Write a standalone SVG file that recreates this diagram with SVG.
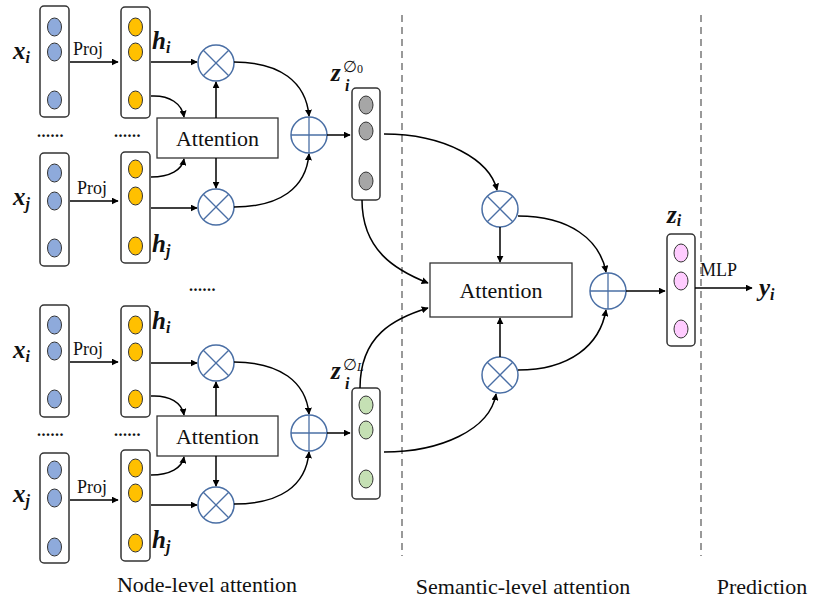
<svg xmlns="http://www.w3.org/2000/svg" width="815" height="603" viewBox="0 0 815 603" font-family="'Liberation Serif', 'Times New Roman', 'DejaVu Serif', serif">
<defs>
<marker id="ah" viewBox="0 0 10 10" refX="9" refY="5" markerWidth="7" markerHeight="7" markerUnits="userSpaceOnUse" orient="auto">
<path d="M0,0 L10,5 L0,10 z" fill="#000"/>
</marker>
<style>
.vbox{fill:#fff;stroke:#333;stroke-width:1.5}
.nb{fill:#8eaadb;stroke:#333;stroke-width:1}
.no{fill:#ffc000;stroke:#333;stroke-width:1}
.ng{fill:#a6a6a6;stroke:#333;stroke-width:1}
.ngr{fill:#c5e0b4;stroke:#333;stroke-width:1}
.np{fill:#ffccff;stroke:#333;stroke-width:1}
.op{fill:#fff;stroke:#4a6fa5;stroke-width:1.5}
.opl{stroke:#4a6fa5;stroke-width:1.3}
.abox{fill:#fff;stroke:#333;stroke-width:1.3}
.edge{fill:none;stroke:#000;stroke-width:1.5;marker-end:url(#ah)}
.dash{stroke:#999;stroke-width:2;stroke-dasharray:7,5}
text{font-family:'Liberation Serif','Times New Roman','DejaVu Serif',serif;fill:#111}
.math{font-weight:bold;font-style:italic;font-size:25px}
.sub{font-style:italic;font-weight:bold;font-size:16px}
.lab{font-size:18px}
.att{font-size:22px}
.cap{font-size:22px}
.dots{font-size:16px;font-weight:bold;letter-spacing:0.5px}
</style>
</defs>

<line class="dash" x1="402" y1="15" x2="402" y2="556"/>
<line class="dash" x1="701" y1="15" x2="701" y2="556"/>

<!-- top group -->
<g id="xi1"><rect class="vbox" x="40" y="6" width="29" height="111" rx="4"/>
<ellipse class="nb" cx="54.5" cy="27" rx="7" ry="9"/><ellipse class="nb" cx="54.5" cy="52" rx="7" ry="9"/><ellipse class="nb" cx="54.5" cy="100" rx="7" ry="9"/>
<text class="math" x="13" y="59">x<tspan class="sub" dy="4">i</tspan></text></g>
<g id="hi1"><rect class="vbox" x="121" y="7" width="29" height="111" rx="4"/>
<ellipse class="no" cx="135.5" cy="27" rx="7" ry="9"/><ellipse class="no" cx="135.5" cy="52" rx="7" ry="9"/><ellipse class="no" cx="135.5" cy="100" rx="7" ry="9"/>
<text class="math" x="152" y="49">h<tspan class="sub" dy="4">i</tspan></text></g>
<g id="xj1"><rect class="vbox" x="40" y="153" width="29" height="113" rx="4"/>
<ellipse class="nb" cx="54.5" cy="173" rx="7" ry="9"/><ellipse class="nb" cx="54.5" cy="201" rx="7" ry="9"/><ellipse class="nb" cx="54.5" cy="248" rx="7" ry="9"/>
<text class="math" x="13" y="205">x<tspan class="sub" dy="4">j</tspan></text></g>
<g id="hj1"><rect class="vbox" x="121" y="152" width="29" height="111" rx="4"/>
<ellipse class="no" cx="135.5" cy="169" rx="7" ry="9"/><ellipse class="no" cx="135.5" cy="196" rx="7" ry="9"/><ellipse class="no" cx="135.5" cy="246" rx="7" ry="9"/>
<text class="math" x="152" y="252">h<tspan class="sub" dy="4">j</tspan></text></g>
<g id="att1"><rect class="abox" x="157" y="118" width="121" height="40"/><text class="att" x="217.5" y="146" text-anchor="middle">Attention</text></g>
<g id="mul1a"><circle class="op" cx="216" cy="63" r="18"/><line class="opl" x1="203.3" y1="50.3" x2="228.7" y2="75.7"/><line class="opl" x1="228.7" y1="50.3" x2="203.3" y2="75.7"/></g>
<g id="mul1b"><circle class="op" cx="216" cy="207" r="18"/><line class="opl" x1="203.3" y1="194.3" x2="228.7" y2="219.7"/><line class="opl" x1="228.7" y1="194.3" x2="203.3" y2="219.7"/></g>
<g id="plus1"><circle class="op" cx="309" cy="135" r="18"/><line class="opl" x1="291" y1="135" x2="327" y2="135"/><line class="opl" x1="309" y1="117" x2="309" y2="153"/></g>
<g id="z0"><rect class="vbox" x="352" y="88" width="28" height="112" rx="4"/>
<ellipse class="ng" cx="366" cy="105" rx="7" ry="9"/><ellipse class="ng" cx="366" cy="131" rx="7" ry="9"/><ellipse class="ng" cx="366" cy="181" rx="7" ry="9"/>
<text class="math" x="331" y="81">z</text><text class="sub" x="345" y="91">i</text><text x="343" y="72" font-size="16">∅<tspan font-size="12" dy="1">0</tspan></text></g>
<text class="dots" x="37" y="137">......</text>
<text class="dots" x="114" y="137">......</text>
<text class="dots" x="189" y="291">......</text>

<!-- bottom group -->
<g id="xi2"><rect class="vbox" x="40" y="305" width="29" height="112" rx="4"/>
<ellipse class="nb" cx="54.5" cy="325" rx="7" ry="9"/><ellipse class="nb" cx="54.5" cy="351" rx="7" ry="9"/><ellipse class="nb" cx="54.5" cy="399" rx="7" ry="9"/>
<text class="math" x="13" y="358">x<tspan class="sub" dy="4">i</tspan></text></g>
<g id="hi2"><rect class="vbox" x="121" y="306" width="29" height="111" rx="4"/>
<ellipse class="no" cx="135.5" cy="325" rx="7" ry="9"/><ellipse class="no" cx="135.5" cy="352" rx="7" ry="9"/><ellipse class="no" cx="135.5" cy="399" rx="7" ry="9"/>
<text class="math" x="152" y="329">h<tspan class="sub" dy="4">i</tspan></text></g>
<g id="xj2"><rect class="vbox" x="40" y="453" width="29" height="110" rx="4"/>
<ellipse class="nb" cx="54.5" cy="470" rx="7" ry="9"/><ellipse class="nb" cx="54.5" cy="498" rx="7" ry="9"/><ellipse class="nb" cx="54.5" cy="547" rx="7" ry="9"/>
<text class="math" x="13" y="502">x<tspan class="sub" dy="4">j</tspan></text></g>
<g id="hj2"><rect class="vbox" x="121" y="450" width="29" height="111" rx="4"/>
<ellipse class="no" cx="135.5" cy="468" rx="7" ry="9"/><ellipse class="no" cx="135.5" cy="493" rx="7" ry="9"/><ellipse class="no" cx="135.5" cy="543" rx="7" ry="9"/>
<text class="math" x="152" y="548">h<tspan class="sub" dy="4">j</tspan></text></g>
<g id="att2"><rect class="abox" x="157" y="416" width="121" height="40"/><text class="att" x="217.5" y="444" text-anchor="middle">Attention</text></g>
<g id="mul2a"><circle class="op" cx="216" cy="363" r="18"/><line class="opl" x1="203.3" y1="350.3" x2="228.7" y2="375.7"/><line class="opl" x1="228.7" y1="350.3" x2="203.3" y2="375.7"/></g>
<g id="mul2b"><circle class="op" cx="216" cy="505" r="18"/><line class="opl" x1="203.3" y1="492.3" x2="228.7" y2="517.7"/><line class="opl" x1="228.7" y1="492.3" x2="203.3" y2="517.7"/></g>
<g id="plus2"><circle class="op" cx="309" cy="433" r="18"/><line class="opl" x1="291" y1="433" x2="327" y2="433"/><line class="opl" x1="309" y1="415" x2="309" y2="451"/></g>
<g id="zL"><rect class="vbox" x="352" y="388" width="28" height="111" rx="4"/>
<ellipse class="ngr" cx="366" cy="405" rx="7" ry="9"/><ellipse class="ngr" cx="366" cy="430" rx="7" ry="9"/><ellipse class="ngr" cx="366" cy="479" rx="7" ry="9"/>
<text class="math" x="331" y="379">z</text><text class="sub" x="345" y="389">i</text><text x="343" y="370" font-size="16">∅<tspan font-size="12" font-style="italic" dy="1">L</tspan></text></g>
<text class="dots" x="37" y="436">......</text>
<text class="dots" x="114" y="436">......</text>

<!-- semantic -->
<g id="smul1"><circle class="op" cx="500" cy="209" r="18"/><line class="opl" x1="487.3" y1="196.3" x2="512.7" y2="221.7"/><line class="opl" x1="512.7" y1="196.3" x2="487.3" y2="221.7"/></g>
<g id="smul2"><circle class="op" cx="500" cy="375" r="18"/><line class="opl" x1="487.3" y1="362.3" x2="512.7" y2="387.7"/><line class="opl" x1="512.7" y1="362.3" x2="487.3" y2="387.7"/></g>
<g id="satt"><rect class="abox" x="430" y="263" width="142" height="54"/><text class="att" x="501" y="298" text-anchor="middle">Attention</text></g>
<g id="splus"><circle class="op" cx="608" cy="291" r="18"/><line class="opl" x1="590" y1="291" x2="626" y2="291"/><line class="opl" x1="608" y1="273" x2="608" y2="309"/></g>
<g id="zi"><rect class="vbox" x="667" y="234" width="28" height="112" rx="4"/>
<ellipse class="np" cx="681" cy="253" rx="7" ry="9"/><ellipse class="np" cx="681" cy="281" rx="7" ry="9"/><ellipse class="np" cx="681" cy="329" rx="7" ry="9"/>
<text class="math" x="667" y="223">z<tspan class="sub" dy="3">i</tspan></text></g>
<g id="yi"><text class="math" x="759" y="296">y<tspan class="sub" dy="4" font-weight="normal">i</tspan></text></g>

<g id="connectors">
<line class="edge" x1="70" y1="62" x2="118" y2="62"/><text class="lab" x="73" y="55">Proj</text>
<line class="edge" x1="70" y1="201" x2="118" y2="201"/><text class="lab" x="77" y="194">Proj</text>
<line class="edge" x1="70" y1="362" x2="118" y2="362"/><text class="lab" x="73" y="355">Proj</text>
<line class="edge" x1="70" y1="500" x2="118" y2="500"/><text class="lab" x="77" y="493">Proj</text>

<line class="edge" x1="151" y1="62" x2="197" y2="62"/>
<line class="edge" x1="151" y1="208" x2="197" y2="208"/>
<path class="edge" d="M151,96 C170,95 182,104 184,117"/>
<path class="edge" d="M151,177 C170,177 182,170 184,159"/>
<line class="edge" x1="216" y1="118" x2="216" y2="82"/>
<line class="edge" x1="216" y1="158" x2="216" y2="188"/>
<path class="edge" d="M234,62 C280,62 306,82 309,116"/>
<path class="edge" d="M234,207 C280,207 306,188 309,154"/>
<line class="edge" x1="327" y1="135" x2="350" y2="135"/>

<line class="edge" x1="151" y1="363" x2="197" y2="363"/>
<line class="edge" x1="151" y1="505" x2="197" y2="505"/>
<path class="edge" d="M151,396 C170,395 182,403 184,415"/>
<path class="edge" d="M151,475 C170,475 182,468 184,457"/>
<line class="edge" x1="216" y1="416" x2="216" y2="382"/>
<line class="edge" x1="216" y1="456" x2="216" y2="486"/>
<path class="edge" d="M234,362 C280,362 306,382 309,414"/>
<path class="edge" d="M234,504 C280,504 306,486 309,452"/>
<line class="edge" x1="327" y1="433" x2="350" y2="433"/>

<path class="edge" d="M384,134 C445,134 490,160 497,190"/>
<path class="edge" d="M362,200 C362,250 395,270 428,283"/>
<path class="edge" d="M360,388 C360,335 395,318 428,308"/>
<path class="edge" d="M384,452 C440,452 490,430 496,394"/>
<line class="edge" x1="500" y1="227" x2="500" y2="262"/>
<line class="edge" x1="500" y1="357" x2="500" y2="318"/>
<path class="edge" d="M518,216 C570,216 600,240 606,272"/>
<path class="edge" d="M518,370 C570,370 600,345 606,310"/>
<line class="edge" x1="626" y1="291" x2="665" y2="291"/>
<line class="edge" x1="695" y1="288" x2="752" y2="288"/>
<text class="lab" x="700" y="276" font-size="19">MLP</text>
</g>

<text class="cap" x="207" y="592" text-anchor="middle">Node-level attention</text>
<text class="cap" x="523" y="594" text-anchor="middle">Semantic-level attention</text>
<text class="cap" x="762" y="594" text-anchor="middle">Prediction</text>
</svg>
